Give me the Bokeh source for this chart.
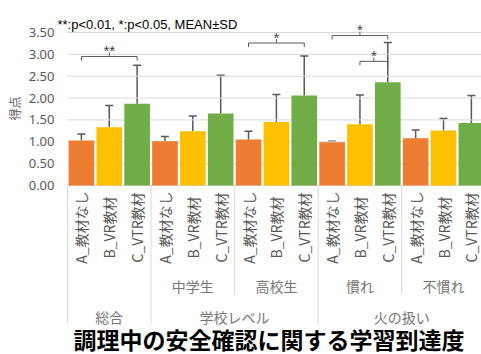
import numpy as np
from bokeh.plotting import figure
from bokeh.models import (ColumnDataSource, FixedTicker, NumeralTickFormatter,
                          Whisker, TeeHead, Range1d, Title)
from bokeh.core.properties import value
from bokeh.embed import file_html
from bokeh.resources import INLINE

# ---------------- data ----------------
level3 = ["総合", "学校レベル", "学校レベル", "火の扱い", "火の扱い"]
level2 = ["", "中学生", "高校生", "慣れ", "不慣れ"]
series = ["A_教材なし", "B_VR教材", "C_VTR教材"]
mean_A = [1.03, 1.01, 1.05, 0.99, 1.08]
mean_B = [1.33, 1.24, 1.45, 1.40, 1.26]
mean_C = [1.87, 1.65, 2.06, 2.36, 1.43]
sd_A = [0.15, 0.11, 0.19, 0.02, 0.19]
sd_B = [0.50, 0.35, 0.63, 0.67, 0.27]
sd_C = [0.88, 0.87, 0.90, 0.91, 0.63]
y_ticks = [0.0, 0.5, 1.0, 1.5, 2.0, 2.5, 3.0, 3.5]
# significance brackets: group index, series from, series to, level, label
sig_group = [0, 2, 3, 3]
sig_from = [0, 0, 0, 1]
sig_to = [2, 2, 2, 2]
sig_level = [2.95, 3.26, 3.43, 2.84]
sig_label = ["**", "*", "*", "*"]
note = "**:p<0.01, *:p<0.05, MEAN±SD"
title = "調理中の安全確認に関する学習到達度"
y_label = "得点"

colors = ["#ED7D31", "#FFC000", "#70AD47"]
GRAY = "#595959"
MID = "#767676"
LIGHT = "#D9D9D9"
CJK = "Noto Sans CJK JP"

# ---------------- layout helpers ----------------
W, H = 481, 354
FRAME_LEFT = 55       # pixel column where the drawing frame starts
ZERO_X = 66           # pixel column of the category axis start
PX_X = 27.92          # pixels per category slot
Y0_PX = 185.0         # pixel row of value 0
PX_Y = 43.71          # pixels per value unit
X_START = -(ZERO_X - FRAME_LEFT) / PX_X
X_END = X_START + (W - FRAME_LEFT) / PX_X

def px_to_y(py):
    return (Y0_PX - py) / PX_Y

def px_to_x(px):
    return (px - ZERO_X) / PX_X

n_groups = len(level2)
n_ser = len(series)
means = [mean_A, mean_B, mean_C]
sds = [sd_A, sd_B, sd_C]

p = figure(width=W, height=H, output_backend="svg", toolbar_location=None,
           x_axis_location=None, min_border_left=FRAME_LEFT, min_border_right=0,
           min_border_top=0, min_border_bottom=0,
           x_range=Range1d(X_START, X_END),
           y_range=Range1d(px_to_y(H), px_to_y(0)))
p.outline_line_color = None
p.background_fill_color = "white"
p.border_fill_color = "white"
p.xgrid.visible = False
p.ygrid.visible = False

ax = p.yaxis[0]
ax.ticker = FixedTicker(ticks=y_ticks)
ax.bounds = (y_ticks[0], y_ticks[-1])
ax.formatter = NumeralTickFormatter(format="0.00")
ax.axis_line_color = None
ax.major_tick_line_color = None
ax.minor_tick_line_color = None
ax.major_tick_out = 0
ax.major_tick_in = 0
ax.major_label_standoff = 2
ax.major_label_text_font = "Noto Sans"
ax.major_label_text_font_size = "13px"
ax.major_label_text_color = GRAY

# y-axis title placed beside the value axis
p.add_layout(Title(text=y_label, align="right", offset=96, standoff=6,
                   text_font=CJK, text_font_size="12px", text_font_style="normal",
                   text_color=GRAY), "left")

# horizontal gridlines at the tick values
p.segment(x0=[0] * len(y_ticks), y0=y_ticks, x1=[X_END] * len(y_ticks), y1=y_ticks,
          line_color=LIGHT, line_width=1)

# bars + error bars
xs_all, lab_all = [], []
for s in range(n_ser):
    xs = [g * n_ser + s + 0.5 for g in range(n_groups)]
    top = means[s]
    upper = [m + d for m, d in zip(means[s], sds[s])]
    src = ColumnDataSource(dict(x=xs, top=top, upper=upper))
    p.vbar(x="x", top="top", bottom=0, width=0.92, source=src,
           fill_color=colors[s], line_color=None)
    p.add_layout(Whisker(source=src, base="x", lower="top", upper="upper",
                         line_color=GRAY, line_width=1.5,
                         upper_head=TeeHead(size=8, line_color=GRAY, line_width=1.5),
                         lower_head=None))
    xs_all += xs
    lab_all += [series[s]] * n_groups

# category labels (rotated)
p.text(x=xs_all, y=[px_to_y(227)] * len(xs_all), text=lab_all, angle=np.pi / 2,
       text_align="center", text_baseline="middle", text_font=value(CJK),
       text_font_size="14px", text_color=GRAY)

# level-2 labels
l2x = [g * n_ser + n_ser / 2 for g in range(n_groups) if level2[g]]
l2t = [level2[g] for g in range(n_groups) if level2[g]]
p.text(x=l2x, y=[px_to_y(285)] * len(l2x), text=l2t, text_align="center",
       text_baseline="middle", text_font=value(CJK), text_font_size="14px",
       text_color=MID)

# level-3 labels
l3t, l3x = [], []
g = 0
while g < n_groups:
    h = g
    while h + 1 < n_groups and level3[h + 1] == level3[g]:
        h += 1
    l3t.append(level3[g])
    l3x.append((g + h + 1) * n_ser / 2)
    g = h + 1
p.text(x=l3x, y=[px_to_y(316)] * len(l3x), text=l3t, text_align="center",
       text_baseline="middle", text_font=value(CJK), text_font_size="14px",
       text_color=MID)

# separators
sx, sy0, sy1 = [], [], []
for g in range(n_groups + 1):
    full = g == 0 or g == n_groups or level3[g] != level3[g - 1]
    sx.append(g * n_ser)
    sy0.append(0)
    sy1.append(px_to_y(323 if full else 294))
p.segment(x0=sx, y0=sy0, x1=sx, y1=sy1, line_color=LIGHT, line_width=1)

# significance brackets
hook = 4 / PX_Y
bx, by, tx, ty = [], [], [], []
for gi, a, b, lv in zip(sig_group, sig_from, sig_to, sig_level):
    x1 = gi * n_ser + a + 0.5
    x2 = gi * n_ser + b + 0.5
    xm = (x1 + x2) / 2
    bx.append([x1, x1, x2, x2])
    by.append([lv - hook, lv, lv, lv - hook])
    bx.append([xm, xm])
    by.append([lv, lv + hook])
    tx.append(xm)
    ty.append(lv)
p.multi_line(xs=bx, ys=by, line_color=GRAY, line_width=1)
p.text(x=tx, y=ty, text=sig_label, text_align="center", text_baseline="alphabetic",
       y_offset=-6, text_font=value("Liberation Sans"), text_font_size="15px",
       text_color="#404040")

# note and title
p.text(x=[px_to_x(56)], y=[px_to_y(24)], text=[note], text_align="left",
       text_baseline="alphabetic", text_font=value("Liberation Sans"),
       text_font_size="13px", text_color="#000000")
p.text(x=[px_to_x(268)], y=[px_to_y(338)], text=[title], text_align="center",
       text_baseline="middle", text_font=value(CJK), text_font_size="23px",
       text_font_style="bold", text_color="#000000")

open("out.html", "w").write(file_html(p, INLINE))
